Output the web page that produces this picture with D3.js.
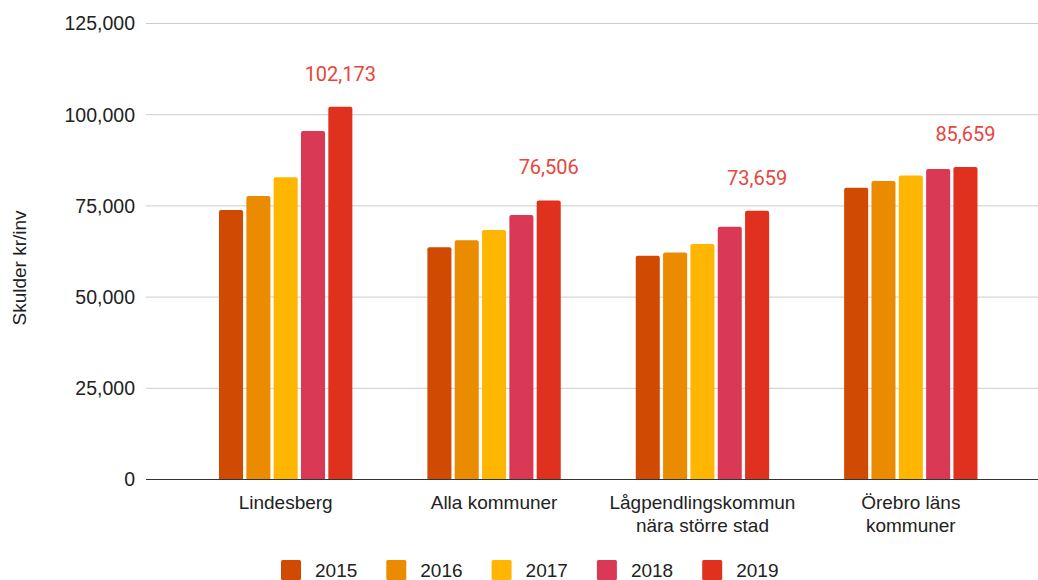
<!DOCTYPE html>
<html>
<head>
<meta charset="utf-8">
<script src="https://cdn.jsdelivr.net/npm/d3@7"></script>
<style>
  body { margin: 0; background: #fff; }
  text { font-family: "Liberation Sans", Arial, sans-serif; }
  .lbl { font-family: Roboto, "Liberation Sans", sans-serif; }
</style>
</head>
<body>
<svg id="chart"></svg>
<script>
// chart data
var categories = ['Lindesberg', 'Alla kommuner', 'Lågpendlingskommun nära större stad', 'Örebro läns kommuner']
var categoryLines = [['Lindesberg'], ['Alla kommuner'], ['Lågpendlingskommun', 'nära större stad'], ['Örebro läns', 'kommuner']]
var years = ['2015', '2016', '2017', '2018', '2019']
var v2015 = [73900, 63650, 61350, 80000]
var v2016 = [77700, 65550, 62250, 81800]
var v2017 = [82850, 68400, 64550, 83300]
var v2018 = [95500, 72500, 69300, 85100]
var v2019 = [102173, 76506, 73659, 85659]
var yTicks = [0, 25000, 50000, 75000, 100000, 125000]
var colors = ['#d04a02', '#eb8c00', '#ffb600', '#d93954', '#e0301e']

var series = [v2015, v2016, v2017, v2018, v2019]

var W = 1038, H = 580
var margin = {left: 146, right: 0, top: 23.5, bottom: 100.5}

var svg = d3.select('#chart')
    .attr('width', W)
    .attr('height', H)

var y = d3.scaleLinear()
    .domain([0, 125000])
    .range([H - margin.bottom, margin.top])

var x0 = d3.scaleBand()
    .domain(categories)
    .range([181.5, 1015])
    .paddingInner(0.36)
    .paddingOuter(0.18)

var x1 = d3.scaleBand()
    .domain(years)
    .range([0, x0.bandwidth()])
    .paddingInner(0.12)

var fmt = d3.format(',')

// grid + tick labels
svg.append('g')
  .selectAll('line')
  .data(yTicks.slice(1))
  .enter().append('line')
    .attr('x1', margin.left)
    .attr('x2', W)
    .attr('y1', function(d) { return y(d) })
    .attr('y2', function(d) { return y(d) })
    .attr('stroke', '#cccccc')
    .attr('stroke-width', 1)

svg.append('g')
  .selectAll('text')
  .data(yTicks)
  .enter().append('text')
    .attr('x', 135)
    .attr('y', function(d) { return y(d) })
    .attr('dy', '0.35em')
    .attr('text-anchor', 'end')
    .attr('font-size', 19.5)
    .attr('fill', '#222')
    .text(function(d) { return fmt(d) })

// axis title
svg.append('text')
    .attr('transform', 'translate(26,' + 268 + ') rotate(-90)')
    .attr('text-anchor', 'middle')
    .attr('font-size', 19)
    .attr('fill', '#222')
    .text('Skulder kr/inv')

// bars
var groups = svg.append('g')
  .selectAll('g')
  .data(categories)
  .enter().append('g')
    .attr('transform', function(d) { return 'translate(' + x0(d) + ',0)' })

groups.selectAll('path')
    .data(function(d, ci) {
      return years.map(function(yr, si) { return {year: yr, value: series[si][ci], color: colors[si]} })
    })
  .enter().append('path')
    .attr('fill', function(d) { return d.color })
    .attr('d', function(d) {
      var bx = x1(d.year), bw = x1.bandwidth(), top = y(d.value), bottom = y(0), r = 2
      return 'M' + bx + ',' + bottom +
        'V' + (top + r) + 'Q' + bx + ',' + top + ' ' + (bx + r) + ',' + top +
        'H' + (bx + bw - r) + 'Q' + (bx + bw) + ',' + top + ' ' + (bx + bw) + ',' + (top + r) +
        'V' + bottom + 'Z'
    })

// labels for 2019
groups.append('text')
    .attr('class', 'lbl')
    .attr('x', x1('2019') + x1.bandwidth() / 2)
    .attr('y', function(d, ci) { return y(v2019[ci]) - 26 })
    .attr('text-anchor', 'middle')
    .attr('font-size', 20)
    .attr('fill', '#e8453c')
    .text(function(d, ci) { return fmt(v2019[ci]) })

// baseline
svg.append('line')
    .attr('x1', margin.left)
    .attr('x2', W)
    .attr('y1', y(0))
    .attr('y2', y(0))
    .attr('stroke', '#333')
    .attr('stroke-width', 1.2)

// category labels
var catLabels = svg.append('g')
  .selectAll('text')
  .data(categories)
  .enter().append('text')
    .attr('text-anchor', 'middle')
    .attr('font-size', 19)
    .attr('fill', '#222')
    .attr('x', function(d) { return x0(d) + x0.bandwidth() / 2 })
    .attr('y', 509)

catLabels.selectAll('tspan')
    .data(function(d, i) { return categoryLines[i] })
  .enter().append('tspan')
    .attr('x', function() { return d3.select(this.parentNode).attr('x') })
    .attr('dy', function(d, i) { return i ? 23 : 0 })
    .text(function(d) { return d })

// legend
var legend = svg.append('g')
  .selectAll('g')
  .data(years)
  .enter().append('g')
    .attr('transform', function(d, i) { return 'translate(' + (281 + i * 105.3) + ',560)' })

legend.append('rect')
    .attr('width', 20)
    .attr('height', 20)
    .attr('rx', 1.5)
    .attr('fill', function(d, i) { return colors[i] })

legend.append('text')
    .attr('x', 34)
    .attr('y', 10)
    .attr('dy', '0.35em')
    .attr('font-size', 19)
    .attr('fill', '#222')
    .text(function(d) { return d })
</script>
</body>
</html>
